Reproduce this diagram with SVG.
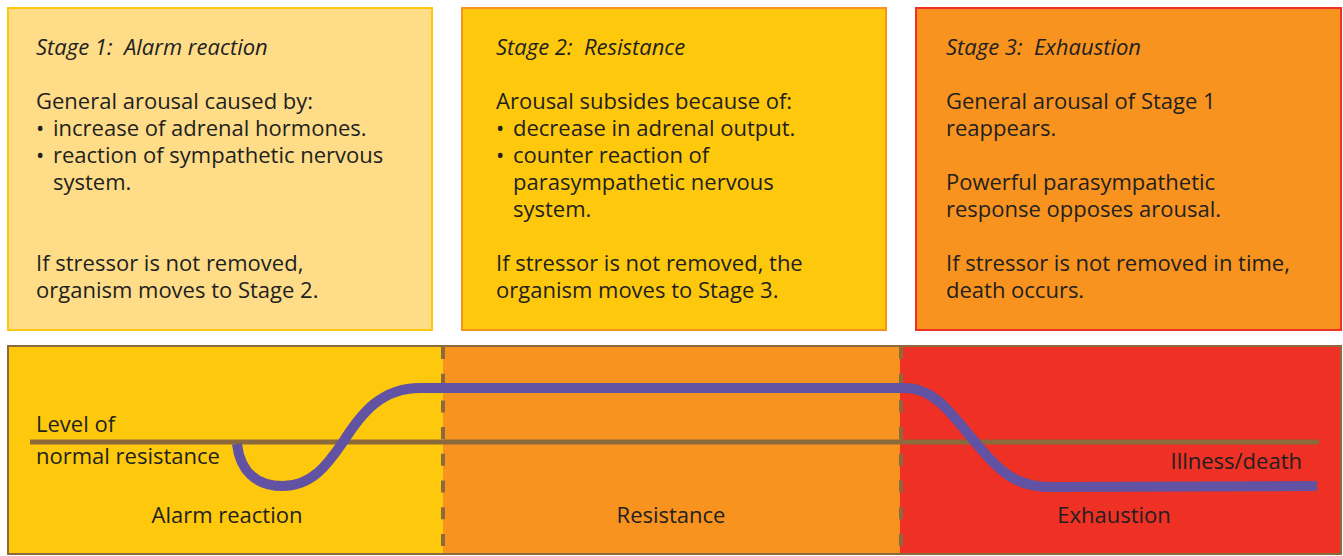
<svg xmlns="http://www.w3.org/2000/svg" width="1343" height="556" viewBox="0 0 1343 556">
<style>
text{font-family:"Open Sans","Noto Sans","Liberation Sans",sans-serif;font-size:22px;fill:#231f20;white-space:pre}
.t{font-style:italic}
.c{text-anchor:middle}
.dash{stroke:#8c6a3c;stroke-width:4;stroke-dasharray:12 14.7;fill:none}
</style>
<rect width="1343" height="556" fill="#ffffff"/>
<g id="stage1">
<rect x="8" y="8" width="424" height="322" fill="#fedc88" stroke="#fdc70e" stroke-width="2"/>
<text class="t" x="36" y="55" xml:space="preserve">Stage 1:  Alarm reaction</text>
<text x="36" y="109">General arousal caused by:</text>
<text x="36" y="136">•</text><text x="53" y="136">increase of adrenal hormones.</text>
<text x="36" y="163">•</text><text x="53" y="163">reaction of sympathetic nervous</text>
<text x="53" y="190">system.</text>
<text x="36" y="271">If stressor is not removed,</text>
<text x="36" y="298">organism moves to Stage 2.</text>
</g>
<g id="stage2">
<rect x="462" y="8" width="424" height="322" fill="#fec80c" stroke="#f7941d" stroke-width="2"/>
<text class="t" x="496" y="55" xml:space="preserve">Stage 2:  Resistance</text>
<text x="496" y="109">Arousal subsides because of:</text>
<text x="496" y="136">•</text><text x="513" y="136">decrease in adrenal output.</text>
<text x="496" y="163">•</text><text x="513" y="163">counter reaction of</text>
<text x="513" y="190">parasympathetic nervous</text>
<text x="513" y="217">system.</text>
<text x="496" y="271">If stressor is not removed, the</text>
<text x="496" y="298">organism moves to Stage 3.</text>
</g>
<g id="stage3">
<rect x="916" y="8" width="425" height="322" fill="#f7931e" stroke="#ee3124" stroke-width="2"/>
<text class="t" x="946" y="55" xml:space="preserve">Stage 3:  Exhaustion</text>
<text x="946" y="109">General arousal of Stage 1</text>
<text x="946" y="136">reappears.</text>
<text x="946" y="190">Powerful parasympathetic</text>
<text x="946" y="217">response opposes arousal.</text>
<text x="946" y="271">If stressor is not removed in time,</text>
<text x="946" y="298">death occurs.</text>
</g>
<g id="graph">
<rect x="8" y="346" width="435" height="208" fill="#fec80c"/>
<rect x="443" y="346" width="457" height="208" fill="#f7931e"/>
<rect x="900" y="346" width="441" height="208" fill="#ee3124"/>
<rect x="8" y="346" width="1333" height="208" fill="none" stroke="#8c6a3c" stroke-width="2"/>
</g>
<g id="connectors">
<line class="dash" x1="443" y1="347" x2="443" y2="554"/>
<line class="dash" x1="901" y1="347" x2="901" y2="554"/>
<line x1="30" y1="442" x2="1319" y2="442" stroke="#8c6a3c" stroke-width="5"/>
<path d="M237,444 C240,470 255,486 283,486 C312,486 328,464 343,442 C362,412 382,388 420,388 L905,388 C935,388 952,415 975,442 C998,470 1015,487 1050,487 L1317,486" fill="none" stroke="#6152a3" stroke-width="10"/>
</g>
<g id="labels">
<text x="36" y="432">Level of</text>
<text x="36" y="464">normal resistance</text>
<text x="1302" y="469" text-anchor="end">Illness/death</text>
<text class="c" x="227" y="523">Alarm reaction</text>
<text class="c" x="671" y="523">Resistance</text>
<text class="c" x="1114" y="523">Exhaustion</text>
</g>
</svg>
